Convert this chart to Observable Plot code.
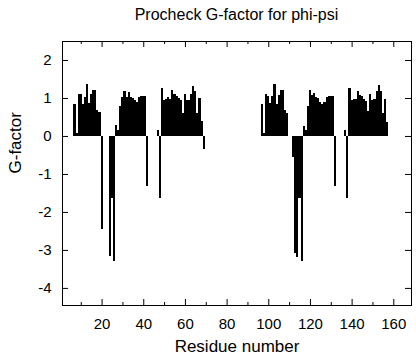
<!DOCTYPE html>
<html>
<head>
<meta charset="utf-8">
<script src="https://cdn.jsdelivr.net/npm/d3@7"></script>
<script src="https://cdn.jsdelivr.net/npm/@observablehq/plot@0.6"></script>
<style>
  html, body { margin: 0; padding: 0; background: #fff; }
  #wrap { width: 416px; font-family: "Liberation Sans", Arial, Helvetica, sans-serif; color: #000; }
  #title { box-sizing: border-box; width: 416px; height: 30px; line-height: 30px; padding-left: 57px; text-align: center; font-size: 16px; }
</style>
</head>
<body>
<div id="wrap">
  <div id="title">Procheck G-factor for phi-psi</div>
  <div id="chart"></div>
</div>
<script>
// Residue numbers and phi-psi G-factor values
const residues = [
  7, 8, 9, 10, 11, 12, 13, 14, 15, 16, 17, 18, 19, 20,
  24, 25, 26, 27, 28, 29, 30, 31, 32, 33, 34, 35, 36, 37, 38, 39, 40, 41, 42,
  47, 48, 49, 50, 51, 52, 53, 54, 55, 56, 57, 58, 59, 60, 61, 62, 63, 64, 65, 66, 67, 68, 69,
  97, 98, 99, 100, 101, 102, 103, 104, 105, 106, 107, 108, 109,
  112, 113, 114, 115, 116, 117, 118, 119, 120, 121, 122, 123, 124, 125, 126, 127, 128, 129, 130, 131, 132,
  137, 138, 139, 140, 141, 142, 143, 144, 145, 146, 147, 148, 149, 150, 151, 152, 153, 154, 155, 156, 157
];
const gfactor = [
  0.83, 0.09, 1.11, 1.10, 0.85, 1.02, 1.38, 0.88, 1.10, 1.20, 1.22, 0.69, 0.63, -2.46,
  -3.15, -1.64, -3.28, 0.28, 0.15, 0.80, 1.03, 1.18, 1.03, 1.15, 1.03, 1.01, 0.94, 0.89, 1.03, 1.04, 1.04, 1.04, -1.32,
  0.15, -1.64, 1.25, 0.94, 0.98, 1.03, 0.96, 1.20, 1.10, 1.04, 1.01, 0.94, 0.61, 1.10, 0.94, 0.94, 1.10, 1.32, 1.18, 0.61, 1.01, 0.39, -0.35,
  0.83, 0.09, 1.10, 1.05, 0.88, 1.04, 1.38, 0.85, 1.07, 1.20, 1.20, 0.68, 0.61,
  -0.55, -3.08, -3.18, -1.64, -3.28, 0.26, 0.17, 0.80, 1.20, 1.07, 1.13, 1.03, 1.00, 0.90, 0.83, 0.90, 1.03, 1.04, 1.04, 1.04, -1.32,
  0.15, -1.64, 1.25, 0.94, 0.98, 0.98, 1.18, 1.09, 1.04, 0.96, 0.92, 0.66, 1.10, 0.94, 0.96, 1.18, 1.33, 1.18, 0.60, 0.98, 0.37
];
const xTicks = [20, 40, 60, 80, 100, 120, 140, 160];
const xMinorTicks = [10, 30, 50, 70, 90, 110, 130, 150];
const yTicks = [-4, -3, -2, -1, 0, 1, 2];

const xDomain = [1, 168.5];
const yDomain = [-4.45, 2.5];

const data = residues.map((r, i) => ({r, g: gfactor[i]}));

const W = 416, H = 330;
const mL = 62, mR = 5, mT = 11, mB = 55;
const pxX = (W - mL - mR) / (xDomain[1] - xDomain[0]);
const pxY = (H - mT - mB) / (yDomain[1] - yDomain[0]);
const major = 6, minor = 3;

const chart = Plot.plot({
  width: W,
  height: H,
  marginLeft: mL,
  marginRight: mR,
  marginTop: mT,
  marginBottom: mB,
  style: {fontFamily: '"Liberation Sans", Arial, Helvetica, sans-serif', fontSize: "15px", color: "#000", background: "#fff"},
  x: {domain: xDomain, ticks: xTicks, tickSize: 0, tickPadding: 13, tickFormat: d => String(d), label: null},
  y: {domain: yDomain, ticks: yTicks, tickSize: 0, tickPadding: 11, tickFormat: d => String(d), label: null},
  marks: [
    Plot.rect(data, {x1: d => d.r - 0.5, x2: d => d.r + 0.5, y1: 0, y2: d => d.g, fill: "#000", shapeRendering: "crispEdges"}),
    // inward ticks on bottom/top
    Plot.ruleX(xTicks, {x: d => d, y1: yDomain[0], y2: yDomain[0] + major / pxY, stroke: "#000"}),
    Plot.ruleX(xTicks, {x: d => d, y1: yDomain[1], y2: yDomain[1] - major / pxY, stroke: "#000"}),
    Plot.ruleX(xMinorTicks, {x: d => d, y1: yDomain[0], y2: yDomain[0] + minor / pxY, stroke: "#000"}),
    Plot.ruleX(xMinorTicks, {x: d => d, y1: yDomain[1], y2: yDomain[1] - minor / pxY, stroke: "#000"}),
    // inward ticks on left/right
    Plot.ruleY(yTicks, {y: d => d, x1: xDomain[0], x2: xDomain[0] + major / pxX, stroke: "#000"}),
    Plot.ruleY(yTicks, {y: d => d, x1: xDomain[1], x2: xDomain[1] - major / pxX, stroke: "#000"}),
    Plot.frame({stroke: "#000"}),
    Plot.text(["Residue number"], {frameAnchor: "bottom", dy: 46, fontSize: 17, fill: "#000"}),
    Plot.text(["G-factor"], {frameAnchor: "left", dx: -47, rotate: -90, fontSize: 17, fill: "#000"})
  ]
});
document.getElementById("chart").appendChild(chart);
</script>
</body>
</html>
